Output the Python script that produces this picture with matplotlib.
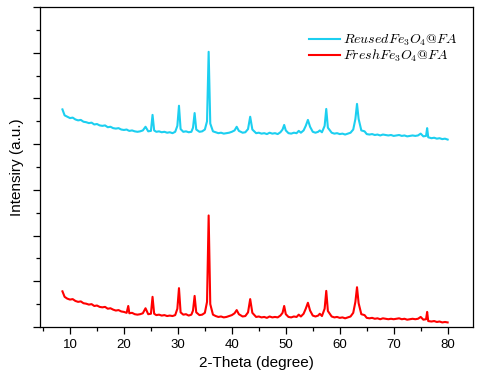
import matplotlib
matplotlib.use("Agg")
import matplotlib.pyplot as plt
from matplotlib.ticker import MultipleLocator, NullFormatter

two_theta = [
    8.6, 9.0, 9.5, 10.0, 10.5, 11.0, 11.5, 12.0, 12.5, 13.0,
    13.5, 14.0, 14.5, 15.0, 15.5, 16.0, 16.5, 17.0, 17.5, 18.0,
    18.5, 19.0, 19.5, 20.0, 20.5, 20.8, 21.0, 21.5, 22.0, 22.5,
    23.0, 23.5, 24.0, 24.5, 25.0, 25.3, 25.6, 26.0, 26.5, 27.0,
    27.5, 28.0, 28.5, 29.0, 29.5, 29.9, 30.2, 30.5, 31.0, 31.5,
    32.0, 32.5, 32.8, 33.1, 33.4, 34.0, 34.5, 35.0, 35.4, 35.7,
    36.0, 36.5, 37.0, 37.5, 38.0, 38.5, 39.0, 39.5, 40.0, 40.5,
    40.9, 41.3, 42.0, 42.5, 43.0, 43.4, 43.8, 44.5, 45.0, 45.5,
    46.0, 46.5, 47.0, 47.5, 48.0, 48.5, 49.0, 49.4, 49.7, 50.0,
    50.5, 51.0, 51.5, 52.0, 52.4, 52.8, 53.3, 53.7, 54.1, 54.5,
    55.0, 55.5, 56.0, 56.3, 56.7, 57.2, 57.5, 57.8, 58.5, 59.0,
    59.5, 60.0, 60.5, 61.0, 61.5, 62.0, 62.5, 62.9, 63.2, 63.5,
    64.0, 64.6, 65.0, 65.5, 66.0, 66.5, 67.0, 67.5, 68.0, 68.5,
    69.0, 69.5, 70.0, 70.5, 71.0, 71.5, 72.0, 72.5, 73.0, 73.5,
    74.0, 74.5, 75.0, 75.5, 76.0, 76.2, 76.4, 77.0, 77.5, 78.0,
    78.5, 79.0, 79.5, 80.0,
]

reused = [
    4.76, 4.63, 4.60, 4.57, 4.58, 4.54, 4.52, 4.53, 4.49, 4.48,
    4.46, 4.47, 4.43, 4.44, 4.41, 4.40, 4.41, 4.37, 4.38, 4.35,
    4.34, 4.35, 4.32, 4.31, 4.32, 4.30, 4.29, 4.30, 4.28, 4.27,
    4.28, 4.30, 4.38, 4.28, 4.29, 4.64, 4.30, 4.27, 4.28, 4.26,
    4.27, 4.25, 4.26, 4.24, 4.27, 4.40, 4.84, 4.33, 4.27, 4.28,
    4.26, 4.27, 4.36, 4.68, 4.32, 4.27, 4.28, 4.32, 4.50, 6.02,
    4.45, 4.28, 4.26, 4.24, 4.25, 4.23, 4.24, 4.25, 4.27, 4.30,
    4.38, 4.29, 4.25, 4.26, 4.33, 4.60, 4.32, 4.24, 4.25, 4.23,
    4.24, 4.22, 4.25, 4.23, 4.24, 4.22, 4.26, 4.32, 4.42, 4.30,
    4.24, 4.23, 4.25, 4.24, 4.29, 4.25, 4.30, 4.40, 4.53, 4.38,
    4.27, 4.25, 4.27, 4.30, 4.26, 4.40, 4.77, 4.36, 4.25, 4.23,
    4.24, 4.22, 4.23, 4.21, 4.23, 4.25, 4.32, 4.55, 4.88, 4.55,
    4.30, 4.28, 4.22, 4.21, 4.22, 4.20, 4.21, 4.19, 4.21, 4.20,
    4.19, 4.20, 4.18, 4.19, 4.20, 4.18, 4.19, 4.17, 4.18, 4.19,
    4.18, 4.19, 4.23, 4.17, 4.18, 4.35, 4.15, 4.13, 4.14, 4.12,
    4.13, 4.11, 4.12, 4.10,
]

fresh = [
    0.78, 0.66, 0.62, 0.60, 0.61, 0.57, 0.55, 0.56, 0.52, 0.51,
    0.49, 0.50, 0.46, 0.47, 0.44, 0.43, 0.44, 0.40, 0.41, 0.38,
    0.36, 0.37, 0.34, 0.33, 0.31, 0.46, 0.30, 0.31, 0.28, 0.27,
    0.28, 0.30, 0.41, 0.28, 0.29, 0.66, 0.29, 0.26, 0.27, 0.25,
    0.26, 0.24, 0.25, 0.24, 0.26, 0.40, 0.85, 0.32, 0.27, 0.28,
    0.25, 0.27, 0.36, 0.68, 0.32, 0.26, 0.27, 0.31, 0.55, 2.44,
    0.50, 0.27, 0.24, 0.22, 0.23, 0.21, 0.22, 0.24, 0.26, 0.30,
    0.37, 0.28, 0.23, 0.24, 0.32, 0.61, 0.31, 0.22, 0.23, 0.21,
    0.22, 0.20, 0.23, 0.21, 0.22, 0.21, 0.25, 0.31, 0.46, 0.28,
    0.22, 0.21, 0.23, 0.22, 0.27, 0.23, 0.29, 0.40, 0.53, 0.36,
    0.25, 0.23, 0.25, 0.29, 0.24, 0.40, 0.79, 0.35, 0.23, 0.21,
    0.22, 0.20, 0.21, 0.19, 0.21, 0.23, 0.31, 0.55, 0.87, 0.52,
    0.28, 0.26, 0.20, 0.19, 0.20, 0.18, 0.19, 0.17, 0.19, 0.18,
    0.17, 0.18, 0.17, 0.18, 0.19, 0.17, 0.18, 0.16, 0.17, 0.18,
    0.17, 0.18, 0.22, 0.16, 0.17, 0.33, 0.13, 0.12, 0.13, 0.11,
    0.12, 0.10, 0.11, 0.10,
]

x_ticks = [10, 20, 30, 40, 50, 60, 70, 80]
label_reused = r"$Reused Fe_3O_4@FA$"
label_fresh = r"$Fresh Fe_3O_4@FA$"

plt.rcParams["font.family"] = ["Liberation Sans", "DejaVu Sans"]
plt.rcParams["mathtext.fontset"] = "cm"

fig = plt.figure(figsize=(4.8, 3.81), dpi=100)
ax = fig.add_axes([40 / 480, 1 - 327 / 381, 433 / 480, 320 / 381])

ax.plot(two_theta, reused, color="#1CCFF0", lw=1.5, label=label_reused)
ax.plot(two_theta, fresh, color="#FF0000", lw=1.5, label=label_fresh)

ax.set_xlim(4.44, 84.7)
ax.set_ylim(0, 7)
ax.set_xticks(x_ticks)
ax.xaxis.set_minor_locator(MultipleLocator(5))
ax.yaxis.set_major_locator(MultipleLocator(1))
ax.yaxis.set_minor_locator(MultipleLocator(0.5))
ax.yaxis.set_major_formatter(NullFormatter())
ax.tick_params(which="major", direction="out", length=5, width=0.9, labelsize=9.5)
ax.tick_params(which="minor", direction="out", length=3, width=0.9)
for s in ax.spines.values():
    s.set_linewidth(0.9)

ax.set_xlabel("2-Theta (degree)", fontsize=11, labelpad=4)
ax.set_ylabel("Intensiry (a.u.)", fontsize=11, labelpad=3)

leg = ax.legend(loc="upper right", bbox_to_anchor=(0.965, 0.92), frameon=False,
                fontsize=10, handlelength=2.2, handletextpad=0.25, labelspacing=0.0,
                borderaxespad=0, borderpad=0)

fig.savefig("out.png", dpi=100)
